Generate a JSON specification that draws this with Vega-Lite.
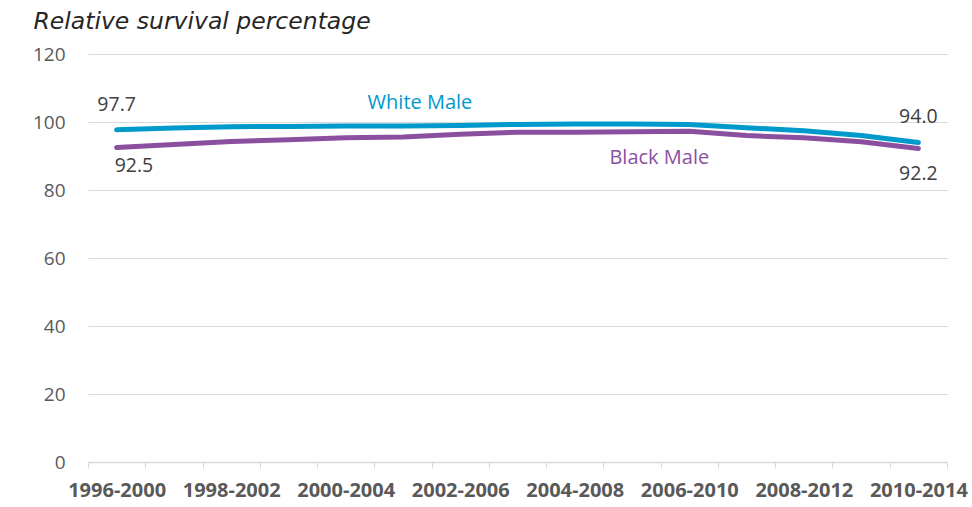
{
  "$schema": "https://vega.github.io/schema/vega-lite/v6.json",
  "autosize": "none",
  "width": 859,
  "height": 408,
  "padding": {"left": 88, "top": 54, "right": 25, "bottom": 45},
  "background": "white",
  "config": {"view": {"stroke": null}, "font": "Open Sans"},
  "data": {"values": [
    {"period": "1996-2000", "series": "White Male", "value": 97.7},
    {"period": "1997-2001", "series": "White Male", "value": 98.2},
    {"period": "1998-2002", "series": "White Male", "value": 98.6},
    {"period": "1999-2003", "series": "White Male", "value": 98.7},
    {"period": "2000-2004", "series": "White Male", "value": 98.8},
    {"period": "2001-2005", "series": "White Male", "value": 98.8},
    {"period": "2002-2006", "series": "White Male", "value": 99.0},
    {"period": "2003-2007", "series": "White Male", "value": 99.3},
    {"period": "2004-2008", "series": "White Male", "value": 99.4},
    {"period": "2005-2009", "series": "White Male", "value": 99.4},
    {"period": "2006-2010", "series": "White Male", "value": 99.3},
    {"period": "2007-2011", "series": "White Male", "value": 98.3},
    {"period": "2008-2012", "series": "White Male", "value": 97.4},
    {"period": "2009-2013", "series": "White Male", "value": 96.0},
    {"period": "2010-2014", "series": "White Male", "value": 94.0},
    {"period": "1996-2000", "series": "Black Male", "value": 92.5},
    {"period": "1997-2001", "series": "Black Male", "value": 93.4},
    {"period": "1998-2002", "series": "Black Male", "value": 94.3},
    {"period": "1999-2003", "series": "Black Male", "value": 94.8},
    {"period": "2000-2004", "series": "Black Male", "value": 95.4},
    {"period": "2001-2005", "series": "Black Male", "value": 95.6},
    {"period": "2002-2006", "series": "Black Male", "value": 96.4},
    {"period": "2003-2007", "series": "Black Male", "value": 97.0},
    {"period": "2004-2008", "series": "Black Male", "value": 97.0},
    {"period": "2005-2009", "series": "Black Male", "value": 97.1},
    {"period": "2006-2010", "series": "Black Male", "value": 97.3},
    {"period": "2007-2011", "series": "Black Male", "value": 96.0},
    {"period": "2008-2012", "series": "Black Male", "value": 95.4},
    {"period": "2009-2013", "series": "Black Male", "value": 94.2},
    {"period": "2010-2014", "series": "Black Male", "value": 92.2}
  ]},
  "encoding": {
    "x": {
      "field": "period", "type": "ordinal", "bandPosition": 0.5,
      "scale": {"type": "band", "paddingInner": 0, "paddingOuter": 0},
      "axis": {
        "title": null, "labelAngle": 0, "labelOverlap": false,
        "labelExpr": "indexof(['1996-2000','1998-2002','2000-2004','2002-2006','2004-2008','2006-2010','2008-2012','2010-2014'], datum.value) >= 0 ? datum.label : ''",
        "tickBand": "extent", "tickSize": 6, "tickColor": "#d9d9d9", "domainColor": "#d9d9d9", "domainWidth": 1.5,
        "labelFont": "Open Sans", "labelFontSize": 20, "labelFontWeight": "bold", "labelColor": "#595959", "labelPadding": 12,
        "grid": false
      }
    },
    "y": {
      "field": "value", "type": "quantitative",
      "scale": {"domain": [0, 120]},
      "axis": {
        "values": [0, 20, 40, 60, 80, 100, 120],
        "domain": false, "ticks": false, "grid": true, "gridColor": "#d9d9d9",
        "labelFont": "Open Sans", "labelFontSize": 19, "labelColor": "#595959", "labelPadding": 23,
        "title": "Relative survival percentage", "titleAngle": 0, "titleX": -55, "titleY": -26,
        "titleAlign": "left", "titleBaseline": "alphabetic", "titleFont": "DejaVu Sans", "titleFontStyle": "italic",
        "titleFontWeight": "normal", "titleFontSize": 23.5, "titleColor": "#262626"
      }
    }
  },
  "layer": [
    {
      "mark": {"type": "line", "strokeWidth": 5, "strokeCap": "round", "strokeJoin": "round"},
      "encoding": {
        "color": {"field": "series", "type": "nominal", "legend": null,
          "scale": {"domain": ["White Male", "Black Male"], "range": ["#0099CC", "#8B4F9F"]}}
      }
    },
    {
      "transform": [{"filter": "datum.series == 'White Male' && (datum.period == '1996-2000' || datum.period == '2010-2014')"}],
      "mark": {"type": "text", "fontSize": 19.5, "color": "#404040", "dy": -25, "align": "center", "baseline": "middle"},
      "encoding": {"text": {"field": "value", "type": "quantitative", "format": ".1f"}}
    },
    {
      "transform": [{"filter": "datum.series == 'Black Male' && datum.period == '1996-2000'"}],
      "mark": {"type": "text", "fontSize": 19.5, "color": "#404040", "dy": 18, "dx": -2, "align": "left", "baseline": "middle"},
      "encoding": {"text": {"field": "value", "type": "quantitative", "format": ".1f"}}
    },
    {
      "transform": [{"filter": "datum.series == 'Black Male' && datum.period == '2010-2014'"}],
      "mark": {"type": "text", "fontSize": 19.5, "color": "#404040", "dy": 25, "align": "center", "baseline": "middle"},
      "encoding": {"text": {"field": "value", "type": "quantitative", "format": ".1f"}}
    },
    {
      "transform": [{"filter": "datum.series == 'White Male' && datum.period == '2001-2005'"}],
      "mark": {"type": "text", "fontSize": 20, "dy": -23, "dx": 17, "align": "center", "baseline": "middle"},
      "encoding": {"text": {"field": "series"}, "color": {"field": "series", "type": "nominal", "legend": null}}
    },
    {
      "transform": [{"filter": "datum.series == 'Black Male' && datum.period == '2006-2010'"}],
      "mark": {"type": "text", "fontSize": 20, "dy": 27, "dx": -30, "align": "center", "baseline": "middle"},
      "encoding": {"text": {"field": "series"}, "color": {"field": "series", "type": "nominal", "legend": null}}
    }
  ]
}
